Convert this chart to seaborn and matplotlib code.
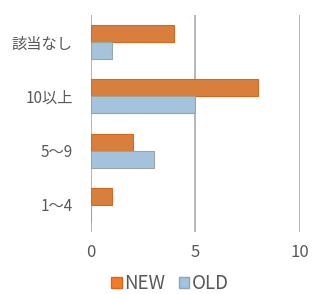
import pandas as pd
import matplotlib.pyplot as plt
import seaborn as sns
from matplotlib.patches import Patch

categories = ['該当なし', '10以上', '5～9', '1～4']
new_values = [4, 8, 2, 1]
old_values = [1, 5, 3, 0]
series = ['NEW', 'OLD']
colors = {'NEW': '#F37B24', 'OLD': '#9DC3E6'}
edges = {'NEW': '#D9661A', 'OLD': '#9AA69A'}

df = pd.DataFrame({
    'cat': categories * 2,
    'value': new_values + old_values,
    'series': ['NEW'] * len(categories) + ['OLD'] * len(categories),
})

sns.set_style('white')
plt.rcParams['font.family'] = ['Noto Sans CJK JP', 'DejaVu Sans']

fig = plt.figure(figsize=(3.27, 2.94), dpi=100)
ax = fig.add_axes([0.278, 0.211, 0.639, 0.738])
sns.barplot(data=df, x='value', y='cat', hue='series', hue_order=series,
            order=categories, palette=colors, orient='h', width=0.63,
            legend=False, ax=ax)
for bars, s in zip(ax.containers, series):
    for b in bars:
        b.set_edgecolor(edges[s])
        b.set_linewidth(0.8)

ax.set_xlim(0, 10)
ax.set_ylim(3.5, -0.5)
ax.set_xticks([0, 5, 10])
ax.grid(axis='x', color='#B0B0B0', linewidth=1.3)
ax.grid(axis='y', visible=False)
ax.set_axisbelow(True)
for sp in ax.spines.values():
    sp.set_visible(False)
ax.set_xlabel('')
ax.set_ylabel('')
ax.tick_params(axis='x', length=0, labelsize=12, colors='#595959', pad=9)
ax.tick_params(axis='y', length=0, labelsize=11, colors='#595959', pad=13)

handles = [Patch(facecolor=colors[s], edgecolor=edges[s]) for s in series]
fig.legend(handles, series, loc='center', bbox_to_anchor=(0.52, 0.035), ncol=2,
           frameon=False, fontsize=13.5, labelcolor='#595959', handlelength=0.55,
           handleheight=0.55, handletextpad=0.15, columnspacing=0.7)

fig.savefig('out.png', dpi=100)
